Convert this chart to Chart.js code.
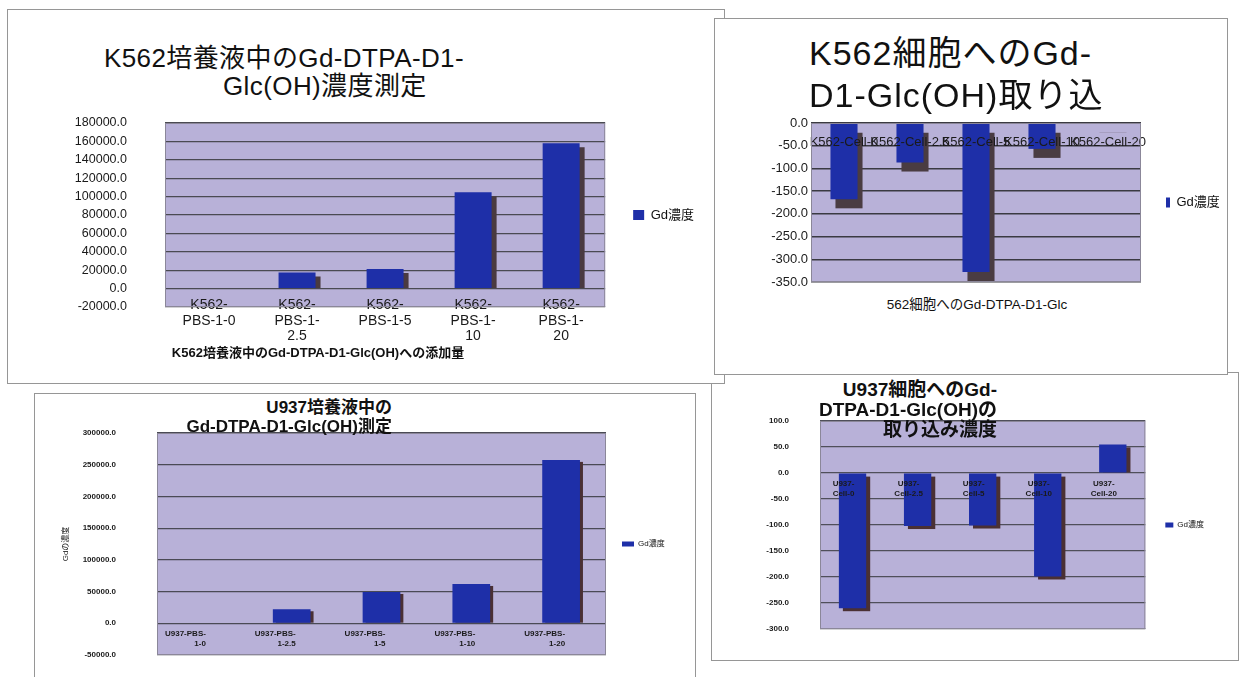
<!DOCTYPE html>
<html>
<head>
<meta charset="utf-8">
<script src="https://cdn.jsdelivr.net/npm/chart.js@4.4.0/dist/chart.umd.min.js"></script>
<style>
  html, body { margin: 0; padding: 0; background: #fff; }
  body { position: relative; width: 1240px; height: 677px; overflow: hidden;
         font-family: 'Liberation Sans', 'Noto Sans CJK JP', sans-serif; }
  .panel { position: absolute; box-sizing: border-box; border: 1px solid #969696; background: #fff; }
  .cv { position: absolute; }
  .txt { position: absolute; white-space: nowrap; color: #111; z-index: 10; }
</style>
</head>
<body>

<!-- slide panels, stacked back to front -->
<div class="panel" style="left:711px; top:372px; width:528px; height:289px; z-index:1;"></div>
<div class="panel" style="left:34px; top:393px; width:662px; height:320px; z-index:1;"></div>
<div class="panel" style="left:7px; top:9px; width:718px; height:375px; z-index:2;"></div>
<div class="panel" style="left:714px; top:18px; width:514px; height:357px; z-index:3;"></div>

<canvas id="k562Medium" class="cv" width="696" height="240" style="left:8px; top:110px; z-index:2;"></canvas>
<canvas id="k562Cell" class="cv" width="511" height="190" style="left:715px; top:105px; z-index:3;"></canvas>
<canvas id="u937Medium" class="cv" width="636" height="257" style="left:35px; top:420px; z-index:1;"></canvas>
<canvas id="u937Cell" class="cv" width="502" height="250" style="left:712px; top:400px; z-index:1;"></canvas>

<!-- titles and axis captions -->
<div class="txt" style="left:104px; top:43px; font-size:26px; line-height:30px; letter-spacing:0.4px;">K562培養液中のGd-DTPA-D1-</div>
<div class="txt" style="left:223px; top:71px; font-size:26px; line-height:30px; letter-spacing:0.4px;">Glc(OH)濃度測定</div>
<div class="txt" style="left:118px; width:400px; text-align:center; top:345px; font-size:13px; line-height:16px; font-weight:bold;">K562培養液中のGd-DTPA-D1-Glc(OH)への添加量</div>

<div class="txt" style="left:809px; top:34px; font-size:34px; line-height:38px; letter-spacing:1px;">K562細胞へのGd-</div>
<div class="txt" style="left:809px; top:76px; font-size:34px; line-height:38px; letter-spacing:1px;">D1-Glc(OH)取り込</div>
<div class="txt" style="left:777px; width:400px; text-align:center; top:297px; font-size:13.5px; line-height:16px;">562細胞へのGd-DTPA-D1-Glc</div>

<div class="txt" style="right:848px; top:398px; font-size:17px; line-height:20px; font-weight:bold;">U937培養液中の</div>
<div class="txt" style="right:848px; top:417px; font-size:17px; line-height:20px; font-weight:bold;">Gd-DTPA-D1-Glc(OH)測定</div>

<div class="txt" style="right:243px; top:380px; font-size:19px; line-height:20px; font-weight:bold;">U937細胞へのGd-</div>
<div class="txt" style="right:243px; top:400px; font-size:19px; line-height:20px; font-weight:bold;">DTPA-D1-Glc(OH)の</div>
<div class="txt" style="right:243px; top:420px; font-size:19px; line-height:20px; font-weight:bold;">取り込み濃度</div>

<script>
// ---- data ----
const seriesName = 'Gd濃度';

const k562MediumLabels = [['K562-', 'PBS-1-0'], ['K562-', 'PBS-1-', '2.5'], ['K562-', 'PBS-1-5'], ['K562-', 'PBS-1-', '10'], ['K562-', 'PBS-1-', '20']];
const k562MediumValues = [0, 17500, 21300, 104700, 158000];
const k562MediumTicks = [-20000, 180000, 20000]; // min, max, step

const k562CellLabels = ['K562-Cell-0', 'K562-Cell-2.5', 'K562-Cell-5', 'K562-Cell-10', 'K562-Cell-20'];
const k562CellValues = [-168, -87, -328, -57, -2];
const k562CellTicks = [-350, 0, 50];

const u937MediumLabels = [['U937-PBS-', '1-0'], ['U937-PBS-', '1-2.5'], ['U937-PBS-', '1-5'], ['U937-PBS-', '1-10'], ['U937-PBS-', '1-20']];
const u937MediumValues = [0, 22100, 49400, 62000, 257600];
const u937MediumTicks = [-50000, 300000, 50000];

const u937CellLabels = [['U937-', 'Cell-0'], ['U937-', 'Cell-2.5'], ['U937-', 'Cell-5'], ['U937-', 'Cell-10'], ['U937-', 'Cell-20']];
const u937CellValues = [-260, -102, -101, -199, 55];
const u937CellTicks = [-300, 100, 50];

// ---- shared drawing helpers ----
const FAMILY = "'Liberation Sans', 'Noto Sans CJK JP', sans-serif";
const BAR_BLUE = '#1e2fa8';
const PLOT_FILL = '#b8b1d8';

// lavender plot area with a thin frame
const plotBackground = {
  id: 'plotBackground',
  beforeDraw(chart, args, opts) {
    const { ctx, chartArea: a } = chart;
    ctx.save();
    ctx.fillStyle = opts.color;
    ctx.fillRect(a.left, a.top, a.width, a.height);
    ctx.restore();
  },
  afterDraw(chart, args, opts) {
    const { ctx, chartArea: a } = chart;
    ctx.save();
    ctx.strokeStyle = opts.frame;
    ctx.lineWidth = 1;
    ctx.strokeRect(a.left + 0.5, a.top + 0.5, a.width - 1, a.height - 1);
    ctx.restore();
  }
};

// dark side face behind each column, taken from the bar elements' own geometry;
// an upward column's face stops at the baseline, a downward one hangs below its end
const barShadow = {
  id: 'barShadow',
  beforeDatasetDraw(chart, args, opts) {
    const { ctx, chartArea: a } = chart;
    ctx.save();
    ctx.beginPath();
    ctx.rect(a.left, a.top, a.width, a.height);
    ctx.clip();
    ctx.fillStyle = opts.color;
    args.meta.data.forEach(bar => {
      const { x, y, base, width } = bar.getProps(['x', 'y', 'base', 'width'], true);
      const left = x - width / 2 + opts.dx;
      const top = Math.min(y, base) + opts.dy;
      let bottom = Math.max(y, base) + opts.dy;
      if (y < base) bottom = Math.min(bottom, base);
      if (bottom > top) ctx.fillRect(left, top, width, bottom - top);
    });
    ctx.restore();
  }
};

function columnChart(id, s) {
  const [yMin, yMax, yStep] = s.ticks;
  return new Chart(document.getElementById(id), {
    type: 'bar',
    data: {
      labels: s.labels,
      datasets: [{
        label: seriesName,
        data: s.values,
        backgroundColor: BAR_BLUE,
        borderWidth: 0,
        barPercentage: s.barPct,
        categoryPercentage: 1
      }]
    },
    options: {
      responsive: false,
      animation: false,
      events: [],
      layout: { padding: s.padding },
      scales: {
        x: {
          type: 'category',
          position: { y: 0 },
          grid: { display: false, drawTicks: false },
          border: { display: false },
          ticks: {
            z: 1, // category names sit on top of the columns
            autoSkip: false, maxRotation: 0, minRotation: 0,
            color: '#1a1a1a',
            font: s.xFont,
            padding: s.xPad,
            align: s.xAlign || 'center',
            labelOffset: s.xOffset || 0
          }
        },
        y: {
          min: yMin, max: yMax,
          afterFit(scale) { scale.width = s.yWidth; },
          grid: {
            color: s.gridColor, lineWidth: s.gridWidth,
            drawTicks: true, tickLength: s.yGap, tickColor: 'rgba(0,0,0,0)'
          },
          border: { display: false },
          title: s.yTitle ? {
            display: true, text: s.yTitle, color: '#222',
            font: { family: FAMILY, size: 8 }, padding: { top: s.yTitlePad, bottom: 0 }
          } : { display: false },
          ticks: {
            stepSize: yStep,
            autoSkip: false,
            color: '#1a1a1a',
            font: s.yFont,
            padding: 0,
            callback: v => Number(v).toFixed(1)
          }
        }
      },
      plugins: {
        tooltip: { enabled: false },
        title: { display: false },
        legend: {
          position: 'right',
          maxWidth: s.legendWidth,
          labels: {
            boxWidth: s.box[0], boxHeight: s.box[1],
            padding: s.legendPad,
            color: '#111',
            font: { family: FAMILY, size: s.legendSize }
          }
        },
        plotBackground: { color: PLOT_FILL, frame: '#8b8799' },
        barShadow: s.shadow
      }
    },
    plugins: [plotBackground, barShadow]
  });
}

columnChart('k562Medium', {
  labels: k562MediumLabels, values: k562MediumValues, ticks: k562MediumTicks,
  barPct: 0.42,
  padding: { left: 0, top: 13, right: 0, bottom: 43 },
  yWidth: 157, yGap: 38, yFont: { family: FAMILY, size: 12.5 },
  xFont: { family: FAMILY, size: 14, lineHeight: 1.1 }, xPad: 9,
  gridColor: '#4a4a52', gridWidth: 1.2,
  legendWidth: 100, legendPad: 28, box: [11, 10], legendSize: 13,
  shadow: { color: '#4a3a40', dx: 5, dy: 4 }
});

columnChart('k562Cell', {
  labels: k562CellLabels, values: k562CellValues, ticks: k562CellTicks,
  barPct: 0.41,
  padding: { left: 0, top: 18, right: 0, bottom: 13 },
  yWidth: 96, yGap: 3, yFont: { family: FAMILY, size: 13 },
  xFont: { family: FAMILY, size: 13, lineHeight: 1.2 }, xPad: 12,
  gridColor: '#3a3a42', gridWidth: 1.5,
  legendWidth: 85, legendPad: 25, box: [4, 10], legendSize: 13,
  shadow: { color: '#4a3c42', dx: 5, dy: 9 }
});

columnChart('u937Medium', {
  labels: u937MediumLabels, values: u937MediumValues, ticks: u937MediumTicks,
  barPct: 0.42,
  padding: { left: 0, top: 13, right: 0, bottom: 22 },
  yWidth: 122, yGap: 41, yFont: { family: FAMILY, size: 8, weight: 'bold' },
  yTitle: 'Gdの濃度', yTitlePad: 26,
  xFont: { family: FAMILY, size: 8, weight: 'bold', lineHeight: 1.25 }, xPad: 6,
  xAlign: 'end', xOffset: 4,
  gridColor: '#4a4a55', gridWidth: 1.2,
  legendWidth: 65, legendPad: 16, box: [12, 5], legendSize: 8,
  shadow: { color: '#4a3034', dx: 3, dy: 2 }
});

columnChart('u937Cell', {
  labels: u937CellLabels, values: u937CellValues, ticks: u937CellTicks,
  barPct: 0.42,
  padding: { left: 0, top: 21, right: 0, bottom: 21 },
  yWidth: 108, yGap: 31, yFont: { family: FAMILY, size: 8, weight: 'bold' },
  xFont: { family: FAMILY, size: 8, weight: 'bold', lineHeight: 1.25 }, xPad: 6,
  xOffset: -9,
  gridColor: '#4f4f5a', gridWidth: 1.2,
  legendWidth: 70, legendPad: 20, box: [8, 5], legendSize: 8,
  shadow: { color: '#4a3034', dx: 4, dy: 3 }
});
</script>
</body>
</html>
